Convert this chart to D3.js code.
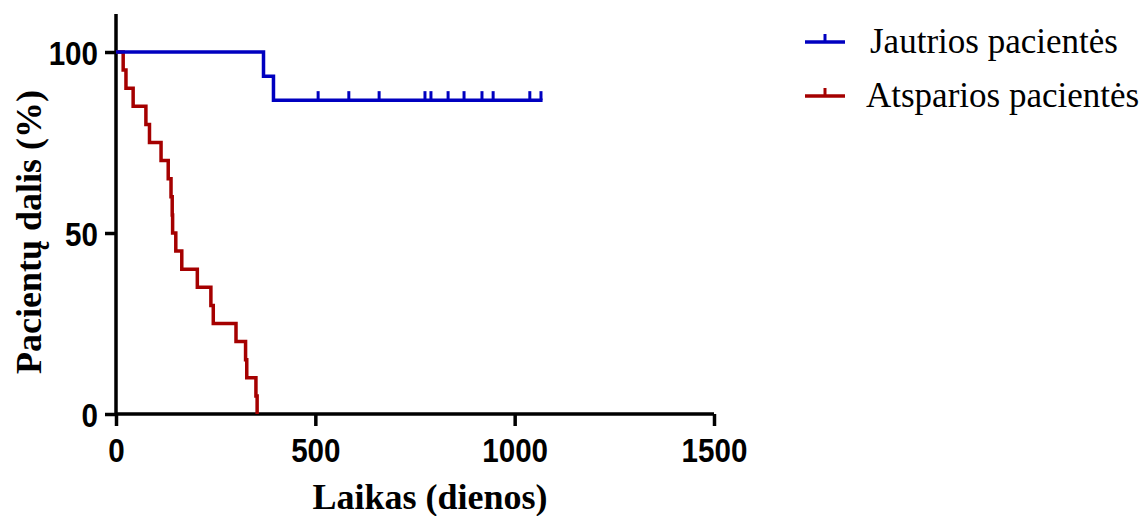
<!DOCTYPE html>
<html>
<head>
<meta charset="utf-8">
<script src="https://cdn.jsdelivr.net/npm/d3@7"></script>
<style>
  body { margin: 0; background: #fff; }
  svg { display: block; }
</style>
</head>
<body>
<svg width="1145" height="516"></svg>
<script>
// sensitive patients (15): two events, then censored
var blueDays = [0, 370, 395, 1070];
var blueSurv = [100, 93.3, 86.7, 86.7];
var blueCensor = [507, 584, 660, 775, 790, 833, 873, 918, 946, 1038, 1066];

// resistant patients (20): all events
var redDays = [0, 18, 25, 43, 75, 84, 113, 131, 138, 141, 142, 150, 165, 204, 238, 244, 301, 325, 328, 351, 354];
var redSurv = [100, 95, 90, 85, 80, 75, 70, 65, 60, 55, 50, 45, 40, 35, 30, 25, 20, 15, 10, 5, 0];

var xTicks = [0, 500, 1000, 1500];
var yTicks = [0, 50, 100];
var seriesNames = ['Jautrios pacientės', 'Atsparios pacientės'];
var seriesColors = ['#0000c0', '#a50000'];

var svg = d3.select('svg');

var x = d3.scaleLinear().domain([0, 1500]).range([116, 714]);
var y = d3.scaleLinear().domain([0, 110.5]).range([414, 14]);

var tickFont = '"Liberation Sans", Arial, sans-serif';
var serif = '"Liberation Serif", "Times New Roman", serif';
var squeeze = 0.87;

// axes
var xAxis = svg.append('g')
  .attr('transform', 'translate(0,' + y(0) + ')')
  .call(d3.axisBottom(x).tickValues(xTicks).tickSize(12).tickPadding(12).tickFormat(d3.format('d')));

var yAxis = svg.append('g')
  .attr('transform', 'translate(' + x(0) + ',0)')
  .call(d3.axisLeft(y).tickValues(yTicks).tickSize(11));

[xAxis, yAxis].forEach(function(ax) {
  ax.select('.domain').attr('stroke', '#000').attr('stroke-width', 3.5);
  ax.selectAll('.tick line').attr('stroke', '#000').attr('stroke-width', 3.5);
  ax.selectAll('.tick text')
    .attr('fill', '#000')
    .attr('transform', 'scale(' + squeeze + ',1)')
    .style('font-family', tickFont)
    .style('font-weight', 'bold')
    .style('font-size', '34px');
});
xAxis.select('.domain').attr('d', 'M' + x(0) + ',0H' + x(1500));
yAxis.select('.domain').attr('d', 'M0,' + y(0) + 'V' + y(110.5));
yAxis.selectAll('.tick text').attr('x', -18 / squeeze).attr('dy', '0.36em');

// step lines
var line = d3.line()
  .x(function(d) { return x(d[0]); })
  .y(function(d) { return y(d[1]); })
  .curve(d3.curveStepAfter);

svg.append('path')
  .datum(d3.zip(redDays, redSurv))
  .attr('fill', 'none')
  .attr('stroke', seriesColors[1])
  .attr('stroke-width', 3.5)
  .attr('d', line);

svg.append('path')
  .datum(d3.zip(blueDays, blueSurv))
  .attr('fill', 'none')
  .attr('stroke', seriesColors[0])
  .attr('stroke-width', 3.5)
  .attr('d', line);

// censor marks
svg.selectAll('.censor')
  .data(blueCensor)
  .enter().append('line')
  .attr('class', 'censor')
  .attr('x1', function(d) { return x(d); })
  .attr('x2', function(d) { return x(d); })
  .attr('y1', y(86.7))
  .attr('y2', y(86.7) - 9)
  .attr('stroke', seriesColors[0])
  .attr('stroke-width', 3);

// axis titles
svg.append('text')
  .attr('x', 430)
  .attr('y', 509)
  .attr('text-anchor', 'middle')
  .style('font-family', serif)
  .style('font-weight', 'bold')
  .style('font-size', '36px')
  .text('Laikas (dienos)');

svg.append('text')
  .attr('transform', 'translate(41,232) rotate(-90)')
  .attr('text-anchor', 'middle')
  .style('font-family', serif)
  .style('font-weight', 'bold')
  .style('font-size', '36px')
  .text('Pacientų dalis (%)');

// legend
var legend = svg.selectAll('.legend')
  .data(seriesNames)
  .enter().append('g')
  .attr('class', 'legend')
  .attr('transform', function(d, i) { return 'translate(805,' + (42 + i * 54) + ')'; });

legend.append('line')
  .attr('x1', 0).attr('x2', 40).attr('y1', 0).attr('y2', 0)
  .attr('stroke', function(d, i) { return seriesColors[i]; })
  .attr('stroke-width', 3.5);

legend.append('line')
  .attr('x1', 20).attr('x2', 20).attr('y1', 0).attr('y2', -8)
  .attr('stroke', function(d, i) { return seriesColors[i]; })
  .attr('stroke-width', 3);

legend.append('text')
  .attr('x', function(d, i) { return i === 0 ? 65 : 61; })
  .attr('y', 0)
  .attr('dy', '0.3em')
  .style('font-family', serif)
  .style('font-size', '35px')
  .text(function(d) { return d; });
</script>
</body>
</html>
